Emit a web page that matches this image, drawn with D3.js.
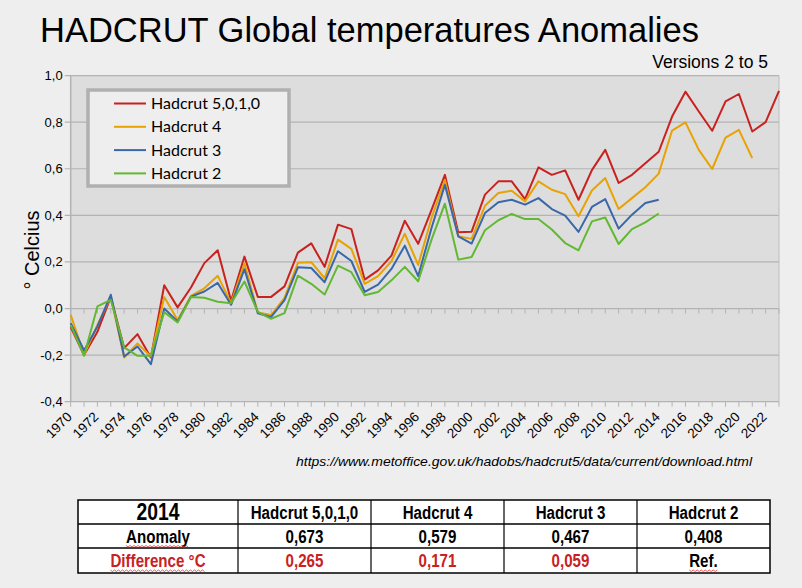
<!DOCTYPE html>
<html>
<head>
<meta charset="utf-8">
<script src="https://cdn.jsdelivr.net/npm/d3@7"></script>
<style>
  body { margin: 0; background: #eeeeee; }
  svg { display: block; }
</style>
</head>
<body>
<script>
// years 1970 .. 2023
var years = d3.range(1970, 2024);

// annual anomalies (deg C)
var hadcrut5 = [-0.08, -0.20, -0.10, 0.05, -0.17, -0.11, -0.21, 0.10, 0.005, 0.09,
    0.195, 0.25, 0.033, 0.223, 0.05, 0.05, 0.095, 0.24, 0.28, 0.179,
    0.36, 0.341, 0.124, 0.164, 0.227, 0.377, 0.278, 0.424, 0.574, 0.327,
    0.33, 0.489, 0.546, 0.546, 0.47, 0.606, 0.574, 0.593, 0.467, 0.594,
    0.681, 0.539, 0.574, 0.624, 0.673, 0.824, 0.931, 0.846, 0.763, 0.889,
    0.921, 0.76, 0.80, 0.934];
var hadcrut4 = [-0.027, -0.199, -0.07, 0.05, -0.21, -0.15, -0.206, 0.049, -0.049, 0.054,
    0.087, 0.141, 0.023, 0.194, -0.017, -0.028, 0.046, 0.196, 0.199, 0.13,
    0.296, 0.256, 0.106, 0.139, 0.203, 0.321, 0.187, 0.389, 0.553, 0.31,
    0.299, 0.441, 0.496, 0.506, 0.46, 0.546, 0.51, 0.491, 0.396, 0.507,
    0.56, 0.427, 0.474, 0.521, 0.579, 0.764, 0.799, 0.681, 0.599, 0.734,
    0.767, 0.646];
var hadcrut3 = [-0.063, -0.18, -0.077, 0.059, -0.206, -0.163, -0.239, 0.0, -0.056, 0.051,
    0.073, 0.11, 0.016, 0.169, -0.02, -0.036, 0.036, 0.177, 0.174, 0.113,
    0.246, 0.204, 0.071, 0.103, 0.17, 0.27, 0.139, 0.346, 0.531, 0.31,
    0.279, 0.41, 0.456, 0.467, 0.446, 0.474, 0.427, 0.399, 0.329, 0.436,
    0.47, 0.343, 0.403, 0.453, 0.467];
var hadcrut2 = [-0.07, -0.203, 0.009, 0.037, -0.167, -0.203, -0.203, -0.016, -0.06, 0.049,
    0.046, 0.029, 0.023, 0.116, -0.014, -0.044, -0.02, 0.141, 0.106, 0.06,
    0.184, 0.156, 0.057, 0.071, 0.121, 0.179, 0.117, 0.296, 0.45, 0.21,
    0.221, 0.336, 0.379, 0.406, 0.384, 0.384, 0.339, 0.281, 0.25, 0.374,
    0.391, 0.277, 0.341, 0.37, 0.408];

var seriesNames = ["Hadcrut 5,0,1,0", "Hadcrut 4", "Hadcrut 3", "Hadcrut 2"];
var seriesColors = ["#c9211e", "#e8a202", "#3a67a8", "#62b832"];
var yTicks = [-0.4, -0.2, 0.0, 0.2, 0.4, 0.6, 0.8, 1.0];

// table under the chart
var tableYear = "2014";
var tableRowLabels = ["Anomaly", "Difference °C"];
var anomaly2014 = [0.673, 0.579, 0.467, 0.408];

var W = 802, H = 588;
var plot = { left: 70.7, right: 779, top: 75.6, bottom: 401.7 };

var locale = d3.formatLocale({ decimal: ",", thousands: ".", grouping: [3], currency: ["", ""], minus: "-" });
var fmt1 = locale.format(".1f");
var fmt3 = locale.format(".3f");

var xScale = d3.scaleLinear().domain([1970, 2023]).range([plot.left, plot.right]);
var yScale = d3.scaleLinear().domain([-0.4, 1.0]).range([plot.bottom, plot.top]);

var svg = d3.select("body").append("svg")
    .attr("width", W)
    .attr("height", H);

svg.append("rect").attr("width", W).attr("height", H).attr("fill", "#eeeeee");

// title
svg.append("text")
    .attr("x", 40).attr("y", 42)
    .attr("font-family", "Liberation Sans, Arial, sans-serif")
    .attr("font-size", 34.5)
    .attr("fill", "#000")
    .text("HADCRUT Global temperatures Anomalies");

svg.append("text")
    .attr("x", 768).attr("y", 68)
    .attr("text-anchor", "end")
    .attr("font-family", "Liberation Sans, Arial, sans-serif")
    .attr("font-size", 17.5)
    .text("Versions 2 to 5");

// plot background
svg.append("rect")
    .attr("x", plot.left).attr("y", plot.top)
    .attr("width", plot.right - plot.left)
    .attr("height", plot.bottom - plot.top)
    .attr("fill", "#dddddd");

// horizontal grid lines
svg.append("g").selectAll("line")
    .data(yTicks)
    .enter().append("line")
    .attr("x1", plot.left - 6).attr("x2", plot.right)
    .attr("y1", function(d) { return yScale(d); })
    .attr("y2", function(d) { return yScale(d); })
    .attr("stroke", "#b3b3b3")
    .attr("stroke-width", 1.2);

// left and right frame
svg.append("line")
    .attr("x1", plot.left).attr("x2", plot.left)
    .attr("y1", plot.top).attr("y2", plot.bottom)
    .attr("stroke", "#b3b3b3").attr("stroke-width", 1.5);
svg.append("line")
    .attr("x1", plot.right).attr("x2", plot.right)
    .attr("y1", plot.top).attr("y2", plot.bottom)
    .attr("stroke", "#c4c4c4").attr("stroke-width", 1.2);

// y tick labels
svg.append("g").selectAll("text")
    .data(yTicks)
    .enter().append("text")
    .attr("x", plot.left - 8)
    .attr("y", function(d) { return yScale(d) + 4.5; })
    .attr("text-anchor", "end")
    .attr("font-family", "Liberation Sans, Arial, sans-serif")
    .attr("font-size", 13)
    .text(function(d) { return fmt1(d); });

// year ticks on the zero line and on the bottom edge
[0, -0.4].forEach(function(v) {
    svg.append("g").selectAll("line")
        .data(years)
        .enter().append("line")
        .attr("x1", function(d) { return xScale(d); })
        .attr("x2", function(d) { return xScale(d); })
        .attr("y1", yScale(v))
        .attr("y2", yScale(v) + 5)
        .attr("stroke", "#b3b3b3")
        .attr("stroke-width", 1);
});

// x labels every two years
svg.append("g").selectAll("text")
    .data(years.filter(function(d) { return d % 2 === 0; }))
    .enter().append("text")
    .attr("transform", function(d) {
        return "translate(" + (xScale(d) + 2) + "," + (plot.bottom + 16) + ") rotate(-45)";
    })
    .attr("text-anchor", "end")
    .attr("font-family", "Liberation Sans, Arial, sans-serif")
    .attr("font-size", 13.5)
    .text(function(d) { return d; });

// y axis title
svg.append("text")
    .attr("transform", "translate(39,250) rotate(-90)")
    .attr("text-anchor", "middle")
    .attr("font-family", "Liberation Sans, Arial, sans-serif")
    .attr("font-size", 20)
    .text("° Celcius");

// lines
var allSeries = [hadcrut5, hadcrut4, hadcrut3, hadcrut2];
var line = d3.line()
    .x(function(d, i) { return xScale(years[i]); })
    .y(function(d) { return yScale(d); });

svg.append("g").selectAll("path")
    .data(allSeries)
    .enter().append("path")
    .attr("d", function(d) { return line(d); })
    .attr("fill", "none")
    .attr("stroke", function(d, i) { return seriesColors[i]; })
    .attr("stroke-width", 2)
    .attr("stroke-linejoin", "round");

// legend
var legend = svg.append("g");
legend.append("rect")
    .attr("x", 88).attr("y", 90)
    .attr("width", 201).attr("height", 96)
    .attr("fill", "#eeeeee")
    .attr("stroke", "#b0b0b0")
    .attr("stroke-width", 3.5);

var items = legend.selectAll("g.item")
    .data(seriesNames)
    .enter().append("g")
    .attr("class", "item")
    .attr("transform", function(d, i) { return "translate(0," + (103.5 + i * 23.3) + ")"; });

items.append("line")
    .attr("x1", 114).attr("x2", 146)
    .attr("stroke", function(d, i) { return seriesColors[i]; })
    .attr("stroke-width", 2);

items.append("text")
    .attr("x", 151).attr("y", 5.5)
    .attr("font-family", "Lato, Noto Sans, sans-serif")
    .attr("font-size", 16)
    .text(function(d) { return d; });

// source
svg.append("text")
    .attr("x", 296).attr("y", 466)
    .attr("font-family", "Liberation Sans Narrow, Liberation Sans, sans-serif")
    .attr("font-style", "italic")
    .attr("font-size", 13)
    .attr("textLength", 456)
    .attr("lengthAdjust", "spacingAndGlyphs")
    .text("https://www.metoffice.gov.uk/hadobs/hadcrut5/data/current/download.html");

// table
var colX = [78, 238, 371, 504, 637, 770];
var rowY = [500, 524, 548, 573];
var ref = anomaly2014[anomaly2014.length - 1];
var rows = [
    [tableYear].concat(seriesNames),
    [tableRowLabels[0]].concat(anomaly2014.map(function(d) { return fmt3(d); })),
    [tableRowLabels[1]].concat(anomaly2014.map(function(d, i) {
        return i === anomaly2014.length - 1 ? "Ref." : fmt3(d - ref);
    }))
];

var table = svg.append("g");
table.append("rect")
    .attr("x", colX[0]).attr("y", rowY[0])
    .attr("width", colX[5] - colX[0]).attr("height", rowY[3] - rowY[0])
    .attr("fill", "#ffffff")
    .attr("stroke", "#000").attr("stroke-width", 1.5);

colX.slice(1, 5).forEach(function(x) {
    table.append("line")
        .attr("x1", x).attr("x2", x).attr("y1", rowY[0]).attr("y2", rowY[3])
        .attr("stroke", "#000").attr("stroke-width", 1.2);
});
rowY.slice(1, 3).forEach(function(y) {
    table.append("line")
        .attr("x1", colX[0]).attr("x2", colX[5]).attr("y1", y).attr("y2", y)
        .attr("stroke", "#000").attr("stroke-width", 1.5);
});

// condensed look: measure the bold text and squeeze it
rows.forEach(function(row, r) {
    row.forEach(function(cell, c) {
        var big = (r === 0 && c === 0);
        var red = (r === 2 && cell !== "Ref.");
        var cx = (colX[c] + colX[c + 1]) / 2;
        var t = table.append("text")
            .attr("x", cx)
            .attr("y", (rowY[r] + rowY[r + 1]) / 2 + (big ? 8 : 6.5))
            .attr("text-anchor", "middle")
            .attr("font-family", "Liberation Sans, Arial, sans-serif")
            .attr("font-weight", "bold")
            .attr("font-size", big ? 23 : 18)
            .attr("fill", red ? "#c9211e" : "#000")
            .text(cell);
        var w = t.node().getComputedTextLength() * 0.84;
        t.attr("textLength", w).attr("lengthAdjust", "spacingAndGlyphs");
        // spell-check squiggle under the words
        if (c === 0 && r > 0 || cell === "Ref.") {
            var y0 = (rowY[r] + rowY[r + 1]) / 2 + 10;
            var pts = d3.range(cx - w / 2, cx + w / 2, 2).map(function(x, k) {
                return [x, y0 + (k % 2 ? 1 : -0.5)];
            });
            table.append("path")
                .attr("d", d3.line()(pts))
                .attr("fill", "none")
                .attr("stroke", "#e03030")
                .attr("stroke-width", 0.8);
        }
    });
});
</script>
</body>
</html>
